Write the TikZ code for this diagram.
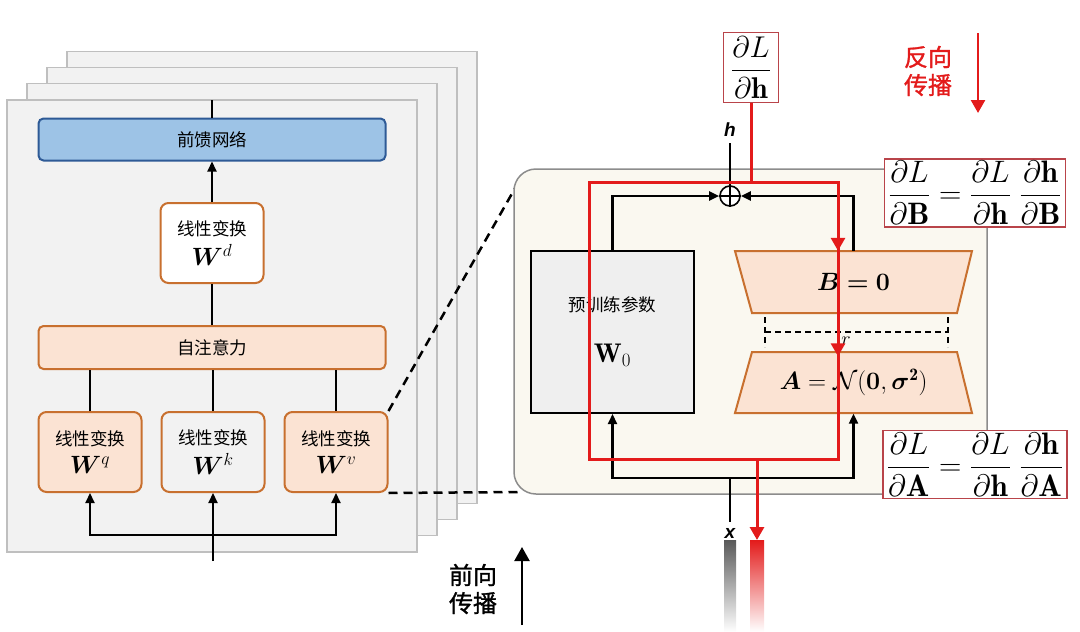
\RequirePackage{fix-cm}
\documentclass[tikz,border=0pt]{standalone}
\usepackage{fontspec}
\usepackage{amsmath}
\usepackage{amssymb}
\usepackage{bm}
\setsansfont{Liberation Sans}
\newfontfamily\cjk{Noto Sans CJK SC}
\newfontfamily\cjkb[FakeBold=1.2]{Noto Sans CJK SC}
\usetikzlibrary{positioning,arrows.meta}

\definecolor{layerfill}{HTML}{F2F2F2}
\definecolor{layerdraw}{HTML}{BFBFBF}
\definecolor{ffnfill}{HTML}{9DC3E6}
\definecolor{ffndraw}{HTML}{2E5A96}
\definecolor{orfill}{HTML}{FBE3D3}
\definecolor{ordraw}{HTML}{C8702F}
\definecolor{panelfill}{HTML}{FAF8F0}
\definecolor{paneldraw}{HTML}{8C8C8C}
\definecolor{wfill}{HTML}{EFEFEF}
\definecolor{lorared}{HTML}{E31B1B}
\definecolor{eqred}{HTML}{B9444A}

\newcommand{\zh}{\cjk\fontsize{17.5}{21}\selectfont}
\newcommand{\wmat}[1]{{\fontsize{25}{25}\selectfont$\boldsymbol{W}^{#1}$}}

\begin{document}
\begin{tikzpicture}[x=1pt,y=-1pt,>={Triangle[length=10pt,width=9pt]},
  layer/.style={draw=layerdraw,fill=layerfill,line width=1.2pt},
  ffnbox/.style={draw=ffndraw,fill=ffnfill,line width=2pt,rounded corners=5pt,minimum width=347pt,minimum height=42pt,font=\zh},
  attnbox/.style={draw=ordraw,fill=orfill,line width=2pt,rounded corners=5pt,minimum width=347pt,minimum height=43pt,font=\zh},
  linbox/.style={draw=ordraw,fill=orfill,line width=2pt,rounded corners=8pt,minimum width=103pt,minimum height=80pt,align=center,font=\zh,inner sep=2pt},
  panelbox/.style={draw=paneldraw,fill=panelfill,line width=1.5pt,rounded corners=22pt,minimum width=473pt,minimum height=325pt},
  w0box/.style={draw=black,fill=wfill,line width=2pt,minimum width=163pt,minimum height=162pt,align=center,font=\zh},
  trapline/.style={draw=ordraw,fill=orfill,line width=2pt},
  eqbox/.style={draw=eqred,fill=white,line width=1.3pt,inner xsep=4pt,inner ysep=2pt,font=\fontsize{31}{32}\selectfont},
  conn/.style={line width=2.2pt},
  redline/.style={line width=3pt,draw=lorared,>={Triangle[length=13pt,width=14pt]}},
  zoomline/.style={line width=2.5pt,dash pattern=on 9pt off 6pt},
  lab/.style={inner sep=0pt,font=\sffamily\bfseries\itshape\fontsize{19}{19}\selectfont}]

\useasboundingbox (0,0) rectangle (1080,632);

% stacked layers
\foreach \i in {3,2,1,0}
  \draw[layer] (7+20*\i,100-16.3*\i) rectangle ++(410,452);

\node[ffnbox](ffn) at (212,139.5){前馈网络};
\node[linbox,fill=white](Wd) at (212,243){线性变换\\[7pt]\wmat{d}};
\node[attnbox](attn) at (212,347.5){自注意力};
\node[linbox,fill=layerfill](Wk) at (213,452){线性变换\\[7pt]\wmat{k}};
\node[linbox](Wq)[left=18pt of Wk]{线性变换\\[7pt]\wmat{q}};
\node[linbox](Wv)[right=18pt of Wk]{线性变换\\[7pt]\wmat{v}};
\coordinate(top) at (212,100);
\coordinate(in) at (213,561);
\coordinate(split) at (213,535);

\draw[conn] (ffn) -- (top);
\draw[conn,->] (Wd) -- (ffn);
\draw[conn] (attn) -- (Wd);
\foreach \n in {Wq,Wk,Wv}
  \draw[conn] (\n) -- (\n |- attn.south);
\draw[conn,->] (in) -- (Wk);
\draw[conn,->] (split) -| (Wq);
\draw[conn,->] (split) -| (Wv);

% zoom lines
\coordinate(zt) at (518,183);
\coordinate(zb) at (520,492);
\draw[zoomline] (Wv.north east) -- (zt);
\draw[zoomline] (Wv.south east) -- (zb);

% LoRA panel
\node[panelbox](panel) at (750.5,331.5){};
\node[w0box](W0) at (612.5,332){预训练参数\\[30pt]{\fontsize{27}{27}\selectfont$\mathbf{W}_0$}};
\draw[trapline] (735,251) -- (972,251) -- (957,313) -- (752,313) -- cycle;
\draw[trapline] (752,352) -- (957,352) -- (972,413) -- (735,413) -- cycle;
\draw[line width=2.2pt,dash pattern=on 6pt off 4pt] (765,317) -- (765,347) (948,317) -- (948,347) (765,332) -- (948,332);
\node[font=\fontsize{20}{20}\selectfont] (r) at (846,341){$r$};
\node[minimum width=237pt,minimum height=62pt,font=\fontsize{25}{25}\selectfont](B) at (853.5,282){$\boldsymbol{B=0}$};
\node[minimum width=237pt,minimum height=62pt,font=\fontsize{25}{25}\selectfont](A) at (853.5,382.5){$\boldsymbol{A}=\mathcal{N}(\boldsymbol{0},\boldsymbol{\sigma}^{\mathbf{2}})$};

\node[circle,draw,line width=1.6pt,minimum size=20pt,inner sep=0pt,fill=white](plus) at (730,196){};
\draw[line width=1.6pt] (plus.north) -- (plus.south) (plus.west) -- (plus.east);
\node[lab](h) at (730,130){h};
\node[lab](x) at (730,533){x};
\coordinate(xs) at (730,478);

\draw[conn,->] (W0.north) |- (plus.west);
\draw[conn,->] (B.north) |- (plus.east);
\draw[conn] (plus.north) -- ([yshift=-6pt]h.south);
\draw[conn] ([yshift=6pt]x.north) -- (xs);
\draw[conn,->] (xs) -| (W0.south);
\draw[conn,->] (xs) -| (A.south);

% backward path
\node[eqbox,font=\fontsize{30}{30}\selectfont,inner xsep=8pt,inner ysep=4pt](dLdh) at (751,67.5){$\dfrac{\partial L}{\partial\mathbf{h}}$};
\coordinate(rtl) at (589,182);
\coordinate(rtr) at (838,182);
\coordinate(rbr) at (838,459);
\coordinate(rout) at (757,459);
\coordinate(rend) at (757,540);
\draw[redline] (dLdh.south) -- (dLdh.south |- rtl);
\draw[redline] (rtl) rectangle (rbr);
\draw[redline,->] (rtr) -- (B.north -| rtr);
\draw[redline,->] (B.south -| rtr) -- ([yshift=-5pt]A.north -| rtr);
\shade[top color=black!65,bottom color=white] (724,540) rectangle (736,632);
\shade[top color=lorared,bottom color=white] (750,540) rectangle (764,632);
\draw[redline,->] (rout) -- (rend);

\node[eqbox](eqB) at (975,193){$\dfrac{\partial L}{\partial\mathbf{B}}=\dfrac{\partial L}{\partial\mathbf{h}}\;\dfrac{\partial\mathbf{h}}{\partial\mathbf{B}}$};
\node[eqbox](eqA) at (975,464.5){$\dfrac{\partial L}{\partial\mathbf{A}}=\dfrac{\partial L}{\partial\mathbf{h}}\;\dfrac{\partial\mathbf{h}}{\partial\mathbf{A}}$};

% direction labels
\node[align=center,text=lorared,font=\cjkb\fontsize{24}{28}\selectfont](bwd) at (928,71){反向\\传播};
\coordinate(bwd1) at (978,33);
\coordinate(bwd2) at (978,113);
\draw[redline,->,line width=2.5pt] (bwd1) -- (bwd2);
\node[align=center,font=\cjkb\fontsize{24}{28}\selectfont](fwd) at (473,589){前向\\传播};
\coordinate(fwd1) at (522,625);
\coordinate(fwd2) at (522,547);
\draw[conn,->,>={Triangle[length=14pt,width=15pt]}] (fwd1) -- (fwd2);

\end{tikzpicture}
\end{document}
